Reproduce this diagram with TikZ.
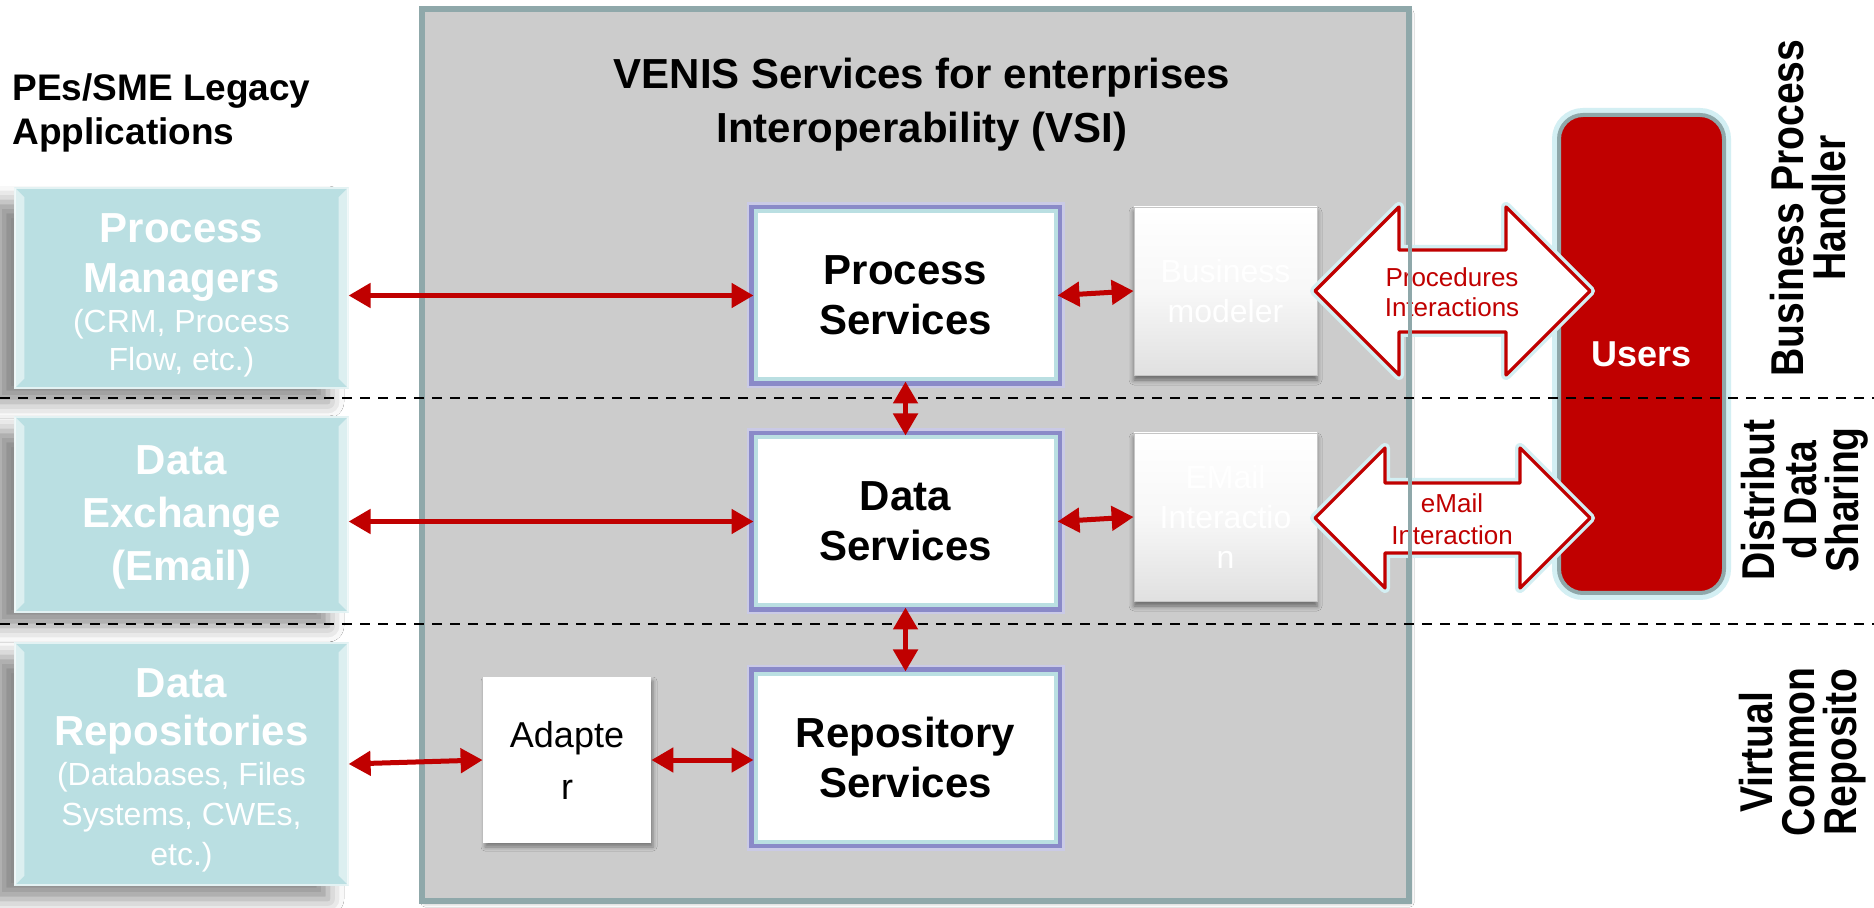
\documentclass[tikz,border=0pt]{standalone}
\usepackage{fontspec}
\setmainfont{Liberation Sans}
\newfontfamily\condfont[FakeStretch=0.85]{Liberation Sans}
\usetikzlibrary{arrows.meta,shadows.blur,calc}
\definecolor{tealbox}{HTML}{BADFE2}
\definecolor{vsired}{HTML}{C00000}
\definecolor{boxgray}{HTML}{CCCCCC}
\definecolor{edgegray}{HTML}{8FA8AA}
\definecolor{glowpurple}{HTML}{8A8AC8}
\definecolor{glowcyan}{HTML}{D3EFF3}
\newcommand\bevelbox[1]{%
  \fill[white,opacity=0.5] (#1.north west) -- ++(5pt,-5pt) -- ($(#1.south west)+(5pt,5pt)$) -- (#1.south west) -- cycle;
  \fill[white,opacity=0.5] (#1.north east) -- ++(-5pt,-5pt) -- ($(#1.south east)+(-5pt,5pt)$) -- (#1.south east) -- cycle;
}
\newcommand\bigb{\fontsize{21}{25}\selectfont\bfseries}
\begin{document}
\begin{tikzpicture}[x=0.5pt,y=-0.5pt,
  legacy/.style={fill=tealbox, draw=white!60!tealbox, line width=0.6pt, inner sep=0pt,
    minimum width=166.5pt, align=center, text=white, font=\fontsize{16}{20}\selectfont,
    blur shadow={shadow xshift=-10pt, shadow yshift=-7pt, shadow blur radius=8pt, shadow opacity=45}},
  svc/.style={fill=white, draw=tealbox, line width=2pt, inner sep=0pt,
    minimum width=150pt, minimum height=84pt,
    preaction={draw=glowpurple!45, line width=9pt},
    preaction={draw=glowpurple, line width=6.5pt},
    align=center, font=\fontsize{21}{25}\selectfont\bfseries},
  greybox/.style={top color=white, bottom color=gray!24, middle color=gray!6, draw=gray!45, line width=0.4pt,
    minimum width=91.5pt, minimum height=84pt, inner sep=0pt,
    blur shadow={shadow xshift=0pt, shadow yshift=-2.5pt, shadow blur radius=2.5pt, shadow opacity=50},
    text=white, align=center, font=\fontsize{16}{20}\selectfont},
  link/.style={draw=vsired, line width=2.5pt,
    {Triangle[length=11pt,width=12pt]}-{Triangle[length=11pt,width=12pt]}},
  fatarrow/.style={fill=white, draw=vsired, line width=1.6pt, line join=round,
    preaction={draw=glowcyan, line width=5pt, line join=round}},
  sepline/.style={draw=black, line width=1pt, dash pattern=on 5pt off 4pt},
  sidelabel/.style={rotate=90, align=center, font=\condfont\fontsize{23}{21}\selectfont\bfseries}
]
\useasboundingbox (0,0) rectangle (1874,908);
\fill[white] (0,0) rectangle (1874,908);

% legacy applications
\node[legacy, minimum height=100pt] (pm) at (181.5,288) {};
\node[legacy, minimum height=97.5pt] (de) at (181.5,514.5) {};
\node[legacy, minimum height=121pt] (dr) at (181.5,764) {};
\bevelbox{pm}
\bevelbox{de}
\bevelbox{dr}
\node[align=center, text=white, font=\fontsize{16}{19}\selectfont] (pmt) at ([yshift=-3.5pt]pm.center)
  {\bigb Process\\[6pt]\bigb Managers\\[1pt](CRM, Process\\Flow, etc.)};
\node[align=center, text=white, font=\fontsize{21}{26.3}\selectfont\bfseries] (det) at ([yshift=-1.5pt]de.center)
  {Data\\Exchange\\(Email)};
\node[align=center, text=white, font=\fontsize{16}{20}\selectfont] (drt) at ([yshift=-3pt]dr.center)
  {\bigb Data\\[4pt]\bigb Repositories\\[0pt](Databases, Files\\Systems, CWEs,\\etc.)};

\node[anchor=base west, inner sep=0pt, align=left, font=\fontsize{18.5}{22}\selectfont\bfseries] (leg) at (12,145)
  {PEs/SME Legacy\\Applications};

% VSI container
\node[fill=boxgray, draw=edgegray, line width=2pt, minimum width=492.5pt, minimum height=445pt,
  blur shadow={shadow xshift=1pt, shadow yshift=-1.5pt, shadow blur radius=2pt, shadow opacity=40}] (vsi) at (915.5,455) {};
\node[align=center, font=\fontsize{21}{27}\selectfont\bfseries] (title) at (922,105)
  {VENIS Services for enterprises\\Interoperability (VSI)};

% services
\node[svc] (ps) at (905.5,295.5) {Process\\Services};
\node[svc] (ds) at (905.5,521.5) {Data\\Services};
\node[svc] (rs) at (905.5,757.5) {Repository\\Services};

\node[fill=white, minimum width=84pt, minimum height=83pt, inner sep=0pt, align=center,
  font=\fontsize{18}{26}\selectfont,
  blur shadow={shadow xshift=1pt, shadow yshift=-2pt, shadow blur radius=2pt, shadow opacity=40}] (ad) at (567,760) {Adapte\\r};

\node[greybox] (bm) at (1225.5,291) {Business\\modeler};
\node[greybox] (ei) at (1225.5,517) {EMail\\Interactio\\n};

% users
\node[fill=vsired, draw=edgegray, line width=2pt, rounded corners=12pt,
  minimum width=82.5pt, minimum height=239pt, inner sep=0pt,
  preaction={draw=glowcyan, line width=7pt, rounded corners=12pt},
  text=white, font=\fontsize{18}{22}\selectfont\bfseries] (users) at (1641.5,354) {Users};

% big double arrows
\path[fatarrow] (1315,291) -- (1399,207) -- (1399,250) -- (1506,250) -- (1506,207) -- (1590,291)
  -- (1506,375) -- (1506,332) -- (1399,332) -- (1399,375) -- cycle;
\node[align=center, text=vsired, font=\fontsize{13}{15}\selectfont] (pi) at (1452,292) {Procedures\\Interactions};
\path[fatarrow] (1315,518) -- (1385,448) -- (1385,483) -- (1520,483) -- (1520,448) -- (1590,518)
  -- (1520,588) -- (1520,553) -- (1385,553) -- (1385,588) -- cycle;
\node[align=center, text=vsired, font=\fontsize{13}{16}\selectfont] (emi) at (1452,519) {eMail\\Interaction};

% container border on top
\draw[edgegray, line width=2pt] (vsi.north west) rectangle (vsi.south east);

% separators
\draw[sepline] (0,398) -- (1874,398);
\draw[sepline] (0,624) -- (1874,624);

% red connectors
\draw[link] (pm.east |- ps.west) -- (ps.west);
\draw[link] (de.east |- ds.west) -- (ds.west);
\draw[link] (dr.east) -- (ad.west);
\draw[link] (ad.east) -- (rs.west |- ad.east);
\draw[link] (ps.east) -- (bm.west);
\draw[link] (ds.east) -- (ei.west);
\draw[link] (ps.south) -- (ds.north);
\draw[link] (ds.south) -- (rs.north);

% right side labels
\node[sidelabel] (bph) at (1808,208) {Business Process\\Handler};
\node[sidelabel] (dds) at (1805,500) {Distribut\\d Data\\Sharing};
\node[sidelabel] (vcr) at (1803,752) {Virtual\\Common\\Reposito};
\end{tikzpicture}
\end{document}
